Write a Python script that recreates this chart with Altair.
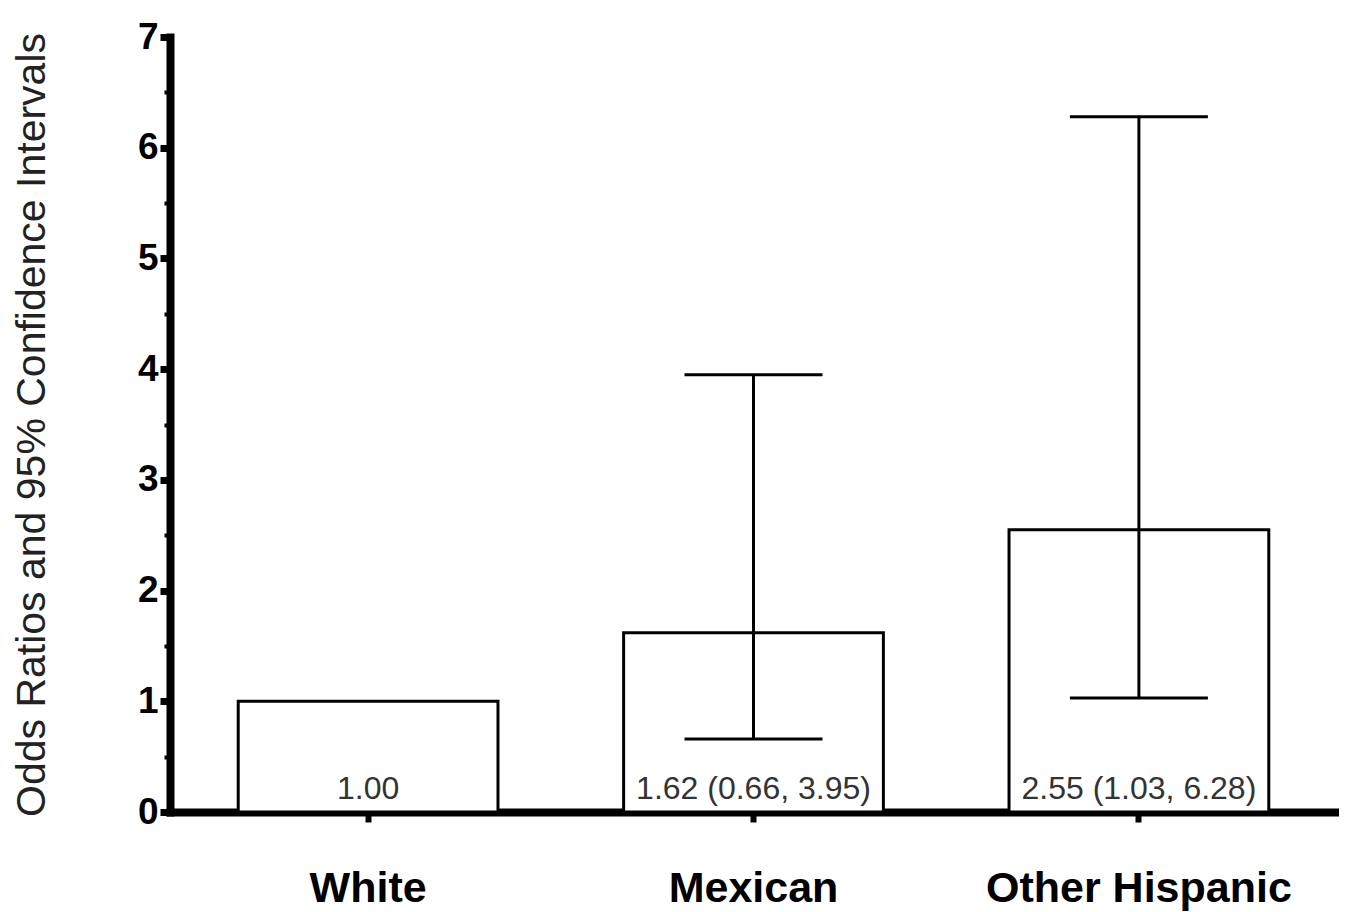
import altair as alt
import pandas as pd

categories = ["White", "Mexican", "Other Hispanic"]
odds_ratio = [1.00, 1.62, 2.55]
ci_low = [None, 0.66, 1.03]
ci_high = [None, 3.95, 6.28]
labels = ["1.00", "1.62 (0.66, 3.95)", "2.55 (1.03, 6.28)"]
y_ticks = [0, 0.5, 1, 1.5, 2, 2.5, 3, 3.5, 4, 4.5, 5, 5.5, 6, 6.5, 7]

df = pd.DataFrame({
    "cat": categories,
    "or": odds_ratio,
    "lo": ci_low,
    "hi": ci_high,
    "label": labels,
})
ci = df.dropna()

FONT = "Liberation Sans"

xscale = alt.Scale(domain=categories, paddingInner=0.326, paddingOuter=0.177)
xenc = alt.X(
    "cat:N",
    scale=xscale,
    sort=categories,
    axis=alt.Axis(
        title=None,
        labelFont=FONT,
        labelFontSize=43,
        labelFontWeight="bold",
        labelColor="black",
        labelAngle=0,
        labelLimit=0,
        labelPadding=45,
        tickSize=10,
        tickWidth=6,
        tickColor="black",
        domainWidth=8,
        domainColor="black",
        domainCap="square",
        grid=False,
    ),
)
yscale = alt.Scale(domain=[0, 7], nice=False)
yaxis = alt.Axis(
    values=y_ticks,
    labelExpr="datum.value % 1 === 0 ? format(datum.value, 'd') : ''",
    title="Odds Ratios and 95% Confidence Intervals",
    titleFont=FONT,
    titleFontSize=41,
    titleFontWeight="normal",
    titleColor="#222222",
    titlePadding=84,
    labelFont=FONT,
    labelFontSize=37,
    labelFontWeight="bold",
    labelColor="black",
    labelPadding=2,
    tickSize={"condition": {"test": "datum.value % 1 === 0", "value": 10}, "value": 6},
    tickWidth={"condition": {"test": "datum.value % 1 === 0", "value": 7}, "value": 4},
    tickColor="black",
    domainWidth=8,
    domainColor="black",
    domainCap="square",
    grid=False,
)

base = alt.Chart(df)

bars = base.mark_bar(fill="white", stroke="black", strokeWidth=3).encode(
    x=xenc,
    y=alt.Y("or:Q", scale=yscale, axis=yaxis),
)

err = alt.Chart(ci).mark_rule(color="black", strokeWidth=3).encode(
    x=alt.X("cat:N", scale=xscale, sort=categories),
    y=alt.Y("lo:Q", scale=yscale),
    y2="hi:Q",
)
cap_lo = alt.Chart(ci).mark_tick(color="black", thickness=3, size=138, opacity=1).encode(
    x=alt.X("cat:N", scale=xscale, sort=categories),
    y=alt.Y("lo:Q", scale=yscale),
)
cap_hi = alt.Chart(ci).mark_tick(color="black", thickness=3, size=138, opacity=1).encode(
    x=alt.X("cat:N", scale=xscale, sort=categories),
    y=alt.Y("hi:Q", scale=yscale),
)
text = base.mark_text(
    font=FONT, fontSize=32, color="#333333", baseline="alphabetic", dy=-13
).encode(
    x=alt.X("cat:N", scale=xscale, sort=categories),
    y=alt.datum(0, scale=yscale),
    text="label:N",
)

chart = (
    alt.layer(bars, err, cap_lo, cap_hi, text)
    .properties(
        width=1167,
        height=775,
        autosize=alt.AutoSizeParams(type="none"),
        padding={"left": 162, "top": 29, "right": 2, "bottom": 100},
        view=alt.ViewBackground(stroke="transparent", strokeWidth=0),
    )
    .configure_view(stroke="transparent", strokeWidth=0)
    .configure_axis(grid=False)
    .configure(background="white")
)

chart.save("out.html", embed_options={"renderer": "svg", "actions": False})
